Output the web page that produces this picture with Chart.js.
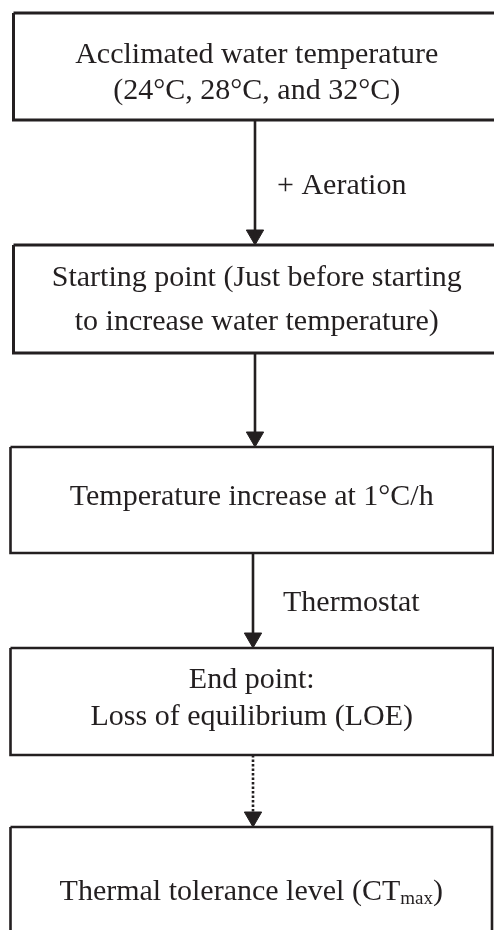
<!DOCTYPE html>
<html>
<head>
<meta charset="utf-8">
<script src="https://cdn.jsdelivr.net/npm/chart.js@4/dist/chart.umd.min.js"></script>
<style>
  html, body { margin: 0; padding: 0; background: #fff; }
  #wrap { width: 494px; height: 930px; }
</style>
</head>
<body>
<div id="wrap"><canvas id="c"></canvas></div>
<script>
// flowchart drawn on a 494 x 930 value grid (y grows downward)
const boxLeft   = [13.5, 13.5, 10.5, 10.5, 10.5];
const boxRight  = [500, 500, 493, 493, 492];
const boxTop    = [13, 245, 447, 648, 827];
const boxBottom = [120, 353, 553, 755, 940];

const boxText = [
  ["Acclimated water temperature", "(24\u00B0C, 28\u00B0C, and 32\u00B0C)"],
  ["Starting point (Just before starting", "to increase water temperature)"],
  ["Temperature increase at 1\u00B0C/h"],
  ["End point:", "Loss of equilibrium (LOE)"],
  ["Thermal tolerance level (CT|max|)"],
];
const textY = [[55, 91], [278, 322], [497], [680, 717], [892]];

const arrowX    = [255, 255, 253, 253];
const arrowFrom = [120, 353, 553, 755];
const arrowTo   = [245, 447, 648, 827];
const arrowDotted = [false, false, false, true];
const arrowLabel  = ["+ Aeration", "", "Thermostat", ""];
const labelX = [277, 0, 283, 0];
const labelY = [186, 0, 603, 0];

const INK = "#231f20";
const HEAD = 10;
const FONT = "Liberation Serif, 'Times New Roman', serif";

const datasets = [];
boxTop.forEach((t, i) => {
  const l = boxLeft[i], r = boxRight[i], b = boxBottom[i];
  datasets.push({
    data: [{x: l, y: t}, {x: r, y: t}, {x: r, y: b}, {x: l, y: b}, {x: l, y: t}],
    showLine: true, borderColor: INK, borderWidth: i < 2 ? 3 : 2.6,
    pointRadius: 0, borderJoinStyle: "miter", fill: false,
  });
});
arrowX.forEach((x, i) => {
  datasets.push({
    data: [{x, y: arrowFrom[i]}, {x, y: arrowTo[i] - HEAD}],
    showLine: true, borderColor: INK, borderWidth: 2.6,
    borderDash: arrowDotted[i] ? [2.5, 2] : [], pointRadius: 0,
  });
  datasets.push({
    data: [{x, y: arrowTo[i] - HEAD}],
    showLine: false, pointStyle: "triangle", rotation: 180,
    pointRadius: HEAD, backgroundColor: INK, borderColor: INK, borderWidth: 1,
  });
});

const textPlugin = {
  id: "flowText",
  afterDatasetsDraw(chart) {
    const { ctx, scales: { x, y } } = chart;
    ctx.save();
    ctx.fillStyle = INK;
    ctx.textBaseline = "middle";
    const size = 30;
    boxText.forEach((lines, i) => {
      const cx = x.getPixelForValue((boxLeft[i] + Math.min(boxRight[i], 494 + 10)) / 2);
      lines.forEach((ln, j) => {
        const py = y.getPixelForValue(textY[i][j]);
        const parts = ln.split("|");
        const fonts = parts.map((p, k) => (k % 2 ? `${Math.round(size * 0.62)}px ${FONT}` : `${size}px ${FONT}`));
        let w = 0;
        parts.forEach((p, k) => { ctx.font = fonts[k]; w += ctx.measureText(p).width; });
        let px = cx - w / 2;
        ctx.textAlign = "left";
        parts.forEach((p, k) => {
          ctx.font = fonts[k];
          ctx.fillText(p, px, k % 2 ? py + 7 : py);
          px += ctx.measureText(p).width;
        });
      });
    });
    ctx.font = `${size}px ${FONT}`;
    ctx.textAlign = "left";
    arrowLabel.forEach((t, i) => {
      if (!t) return;
      ctx.fillText(t, x.getPixelForValue(labelX[i]), y.getPixelForValue(labelY[i]));
    });
    ctx.restore();
  },
};

new Chart(document.getElementById("c"), {
  type: "scatter",
  data: { datasets },
  options: {
    responsive: true, maintainAspectRatio: false, animation: false,
    layout: { padding: 0, autoPadding: false },
    plugins: { legend: { display: false }, tooltip: { enabled: false } },
    scales: {
      x: { type: "linear", min: 0, max: 494, display: false },
      y: { type: "linear", min: 0, max: 930, reverse: true, display: false },
    },
  },
  plugins: [textPlugin],
});
</script>
</body>
</html>
